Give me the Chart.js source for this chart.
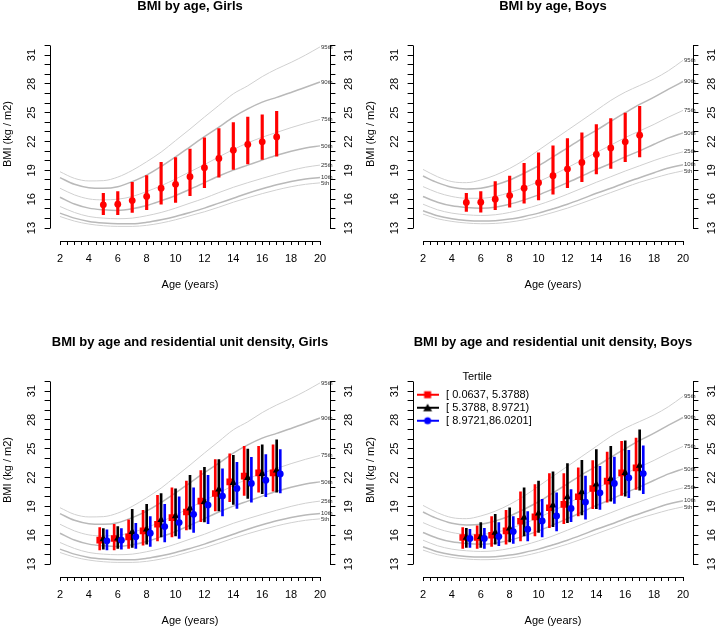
<!DOCTYPE html>
<html><head><meta charset="utf-8">
<script src="https://cdn.jsdelivr.net/npm/chart.js@4.4.1/dist/chart.umd.min.js"></script>
<style>
html,body{margin:0;padding:0;background:#fff;}
#wrap{position:relative;width:718px;height:628px;overflow:hidden;background:#fff;}
canvas{position:absolute;}
</style></head><body>
<div id="wrap">
<canvas id="c1" width="359" height="292" style="left:0px;top:0px"></canvas>
<canvas id="c2" width="355" height="292" style="left:363px;top:0px"></canvas>
<canvas id="c3" width="359" height="292" style="left:0px;top:336px"></canvas>
<canvas id="c4" width="355" height="292" style="left:363px;top:336px"></canvas>
</div>
<script>
// ---------- tick labels ----------
const xTickLabels = [2,4,6,8,10,12,14,16,18,20];
const yTickLabels = [13,16,19,22,25,28,31];
const pctLabels = ['95th','90th','75th','50th','25th','10th','5th'];
const tertileLabels = ['[ 0.0637, 5.3788)', '[ 5.3788, 8.9721)', '[ 8.9721,86.0201]'];

// ---------- reference percentile curves (ages 2..20) ----------
const pctAges = [2,3,4,5,6,7,8,9,10,11,12,13,14,15,16,17,18,19,20];
const girlsP95 = [18.86,18.17,17.90,17.93,18.30,19.00,19.90,20.90,22.10,23.30,24.55,25.76,26.97,27.80,28.76,29.55,30.24,31.00,31.85];
const girlsP90 = [18.24,17.55,17.20,17.14,17.30,17.83,18.50,19.40,20.40,21.45,22.50,23.50,24.55,25.40,26.10,26.60,27.10,27.65,28.20];
const girlsP75 = [17.14,16.45,16.03,15.93,16.00,16.28,16.80,17.40,18.10,18.86,19.60,20.40,21.17,21.86,22.45,22.95,23.45,23.90,24.30];
const girlsP50 = [16.20,15.50,15.07,14.90,14.83,15.00,15.34,15.83,16.38,17.03,17.72,18.41,19.03,19.55,20.07,20.58,21.00,21.33,21.55];
const girlsP25 = [15.24,14.62,14.20,14.03,13.97,14.03,14.28,14.62,15.07,15.59,16.10,16.69,17.24,17.72,18.17,18.60,19.00,19.33,19.55];
const girlsP10 = [14.55,14.03,13.69,13.52,13.45,13.45,13.59,13.86,14.20,14.62,15.07,15.59,16.10,16.62,17.08,17.50,17.85,18.10,18.27];
const girlsP5  = [14.20,13.72,13.41,13.24,13.17,13.17,13.28,13.52,13.86,14.28,14.69,15.17,15.69,16.15,16.58,16.97,17.30,17.55,17.70];

const boysP95 = [19.10,18.34,17.83,17.72,18.00,18.50,19.20,20.07,21.10,22.14,23.17,24.20,25.24,26.28,27.14,27.83,28.52,29.38,30.45];
const boysP90 = [18.41,17.72,17.24,17.07,17.14,17.48,18.00,18.70,19.48,20.41,21.34,22.31,23.17,24.10,25.00,25.86,26.62,27.45,28.25];
const boysP75 = [17.31,16.69,16.28,16.10,16.10,16.28,16.69,17.21,17.83,18.52,19.28,20.07,20.86,21.62,22.41,23.10,23.79,24.55,25.24];
const boysP50 = [16.28,15.69,15.31,15.14,15.07,15.17,15.48,15.93,16.45,17.07,17.72,18.41,19.10,19.72,20.41,21.03,21.72,22.38,22.90];
const boysP25 = [15.48,14.90,14.55,14.38,14.31,14.38,14.62,14.97,15.41,15.93,16.52,17.14,17.76,18.34,18.93,19.48,20.03,20.52,20.93];
const boysP10 = [14.79,14.28,13.97,13.79,13.72,13.76,13.93,14.21,14.55,15.00,15.48,16.03,16.62,17.14,17.72,18.24,18.76,19.25,19.58];
const boysP5  = [14.45,13.97,13.69,13.52,13.45,13.48,13.62,13.86,14.21,14.62,15.07,15.59,16.14,16.69,17.24,17.76,18.20,18.62,18.95];

// ---------- observed BMI by age ----------
const ages = [5,6,7,8,9,10,11,12,13,14,15,16,17];
const girlsMean = [15.41,15.48,15.86,16.28,17.14,17.55,18.34,19.28,20.24,21.10,21.69,21.97,22.48];
const girlsLow  = [14.38,14.38,14.62,14.90,15.48,15.66,16.38,17.21,18.28,19.10,19.66,20.14,20.48];
const girlsHigh = [16.62,16.79,17.76,18.45,19.83,20.34,21.21,22.38,23.34,23.97,24.55,24.79,25.14];

const boysMean = [15.66,15.69,16.00,16.38,17.14,17.72,18.45,19.14,19.83,20.66,21.34,21.97,22.66];
const boysLow  = [14.72,14.66,14.90,15.17,15.59,15.93,16.52,17.21,17.83,18.62,19.21,19.90,20.41];
const boysHigh = [16.62,16.79,17.83,18.41,19.72,20.83,21.55,22.31,22.90,23.76,24.38,24.97,25.66];

// ---------- by residential unit density tertile ----------
const girlsT1Mean = [15.48,15.66,15.83,16.45,17.14,17.83,18.41,19.55,20.34,21.55,22.14,22.48,22.48];
const girlsT1Low  = [14.48,14.48,14.62,14.97,15.41,15.83,16.55,17.41,18.52,19.48,20.14,20.48,20.59];
const girlsT1High = [16.79,17.14,17.59,18.59,20.14,20.93,21.62,22.72,23.86,24.48,25.24,25.24,25.41];
const girlsT2Mean = [15.59,15.66,16.34,16.62,17.59,18.00,18.79,19.48,20.76,21.45,21.97,22.38,22.76];
const girlsT2Low  = [14.55,14.62,14.72,15.07,15.83,15.93,16.62,17.38,18.52,19.21,19.83,20.31,20.48];
const girlsT2High = [16.69,16.90,18.69,19.21,20.34,20.83,22.24,23.07,23.86,24.31,24.97,25.41,25.93];
const girlsT3Mean = [15.41,15.48,15.83,16.21,16.90,17.31,18.17,19.14,20.07,20.86,21.38,21.72,22.38];
const girlsT3Low  = [14.48,14.55,14.62,14.83,15.31,15.66,16.28,17.21,18.00,18.79,19.45,20.00,20.41];
const girlsT3High = [16.55,16.69,17.24,17.93,19.21,20.00,20.93,22.24,22.90,23.59,24.10,24.38,24.90];

const boysT1Mean = [15.76,15.76,16.00,16.45,17.45,17.90,18.86,19.21,20.00,20.86,21.62,22.48,23.00];
const boysT1Low  = [14.62,14.62,14.83,15.07,15.41,15.93,16.79,17.21,18.00,18.76,19.45,20.14,20.76];
const boysT1High = [16.79,16.97,17.93,18.59,20.52,21.28,22.41,22.41,23.00,23.76,24.66,25.76,26.10];
const boysT2Mean = [15.76,15.83,16.28,16.72,17.83,18.28,19.10,19.97,20.48,21.28,21.86,22.48,23.24];
const boysT2Low  = [14.72,14.72,15.07,15.31,15.93,16.28,16.90,17.31,18.10,18.76,19.55,20.07,20.69];
const boysT2High = [16.72,17.31,18.17,18.86,20.93,21.62,22.59,23.45,23.79,24.90,25.24,25.83,26.97];
const boysT3Mean = [15.66,15.66,15.86,16.38,16.62,17.48,18.00,18.79,19.45,20.41,21.38,21.97,22.41];
const boysT3Low  = [14.72,14.62,14.90,15.14,15.41,15.83,16.45,17.41,17.66,18.69,19.31,19.90,20.31];
const boysT3High = [16.62,16.72,17.31,17.93,18.45,19.72,20.41,20.76,22.14,23.17,24.14,24.83,25.31];

// ---------- styling ----------
Chart.defaults.font.family = '"Liberation Sans", Arial, sans-serif';
Chart.defaults.font.size = 11;
Chart.defaults.color = '#000';

const DODGE = 0.25;
const X_MIN = 1.28, X_MAX = 20.72;
const Y_MIN = 11.65, Y_MAX = 33.92;
const thinGray = '#d0d0d0', thickGray = '#b9b9b9';

function xTickValues() {
  const out = [];
  for (let v = xTickLabels[0]; v <= xTickLabels[xTickLabels.length - 1] + 1e-9; v += 0.5) out.push({value: v});
  return out;
}
function yTickValues() {
  const out = [];
  for (let v = yTickLabels[0]; v <= yTickLabels[yTickLabels.length - 1] + 1; v += 1) out.push({value: v});
  return out;
}
function labelIf(list) {
  return function(v) {
    const r = Math.round(v);
    return (Math.abs(v - r) < 1e-6 && list.includes(r)) ? String(r) : '';
  };
}

const rAxes = {
  id: 'rAxes',
  afterDraw(chart) {
    const {ctx, chartArea, scales} = chart;
    ctx.save();
    ctx.strokeStyle = '#000';
    ctx.lineWidth = 1;
    ctx.beginPath();
    const xs = scales.x, ys = scales.y;
    const yb = Math.round(chartArea.bottom) + 0.5;
    ctx.moveTo(xs.getPixelForValue(xTickLabels[0]), yb);
    ctx.lineTo(xs.getPixelForValue(xTickLabels[xTickLabels.length - 1]) + 0.5, yb);
    const yTop = ys.getPixelForValue(yTickLabels[yTickLabels.length - 1] + 1);
    const yBot = ys.getPixelForValue(yTickLabels[0]);
    const xl = Math.round(chartArea.left) + 0.5;
    const xr = Math.round(chartArea.right) + 0.5;
    ctx.moveTo(xl, yTop); ctx.lineTo(xl, yBot + 0.5);
    ctx.moveTo(xr, yTop); ctx.lineTo(xr, yBot + 0.5);
    ctx.stroke();
    ctx.restore();
  }
};

function pctLabelPlugin(curves) {
  return {
    id: 'pctLabels',
    afterDatasetsDraw(chart) {
      const {ctx, scales} = chart;
      ctx.save();
      ctx.font = '6px "Liberation Sans", Arial, sans-serif';
      ctx.fillStyle = '#333';
      ctx.textAlign = 'left';
      ctx.textBaseline = 'middle';
      const last = pctAges.length - 1;
      curves.forEach((arr, i) => {
        ctx.fillText(pctLabels[i], scales.x.getPixelForValue(pctAges[last]) + 1, scales.y.getPixelForValue(arr[last]));
      });
      ctx.restore();
    }
  };
}

function curveDatasets(curves) {
  return curves.map((arr, i) => ({
    type: 'line',
    label: pctLabels[i],
    data: pctAges.map((a, k) => ({x: a, y: arr[k]})),
    borderColor: (i === 1 || i === 3 || i === 5) ? thickGray : thinGray,
    borderWidth: (i === 1 || i === 3 || i === 5) ? 1.5 : 1,
    pointRadius: 0,
    fill: false,
    tension: 0.4,
    cubicInterpolationMode: 'monotone',
    order: 100
  }));
}

function errorBars(label, mean, low, high, dx, color, style, radius, barW, order) {
  return [
    {
      type: 'bar',
      label: label + ' range',
      data: ages.map((a, k) => ({x: a + dx, y: [low[k], high[k]]})),
      backgroundColor: color,
      borderWidth: 0,
      barThickness: barW,
      grouped: false,
      order: order + 1
    },
    {
      type: 'scatter',
      label: label,
      data: ages.map((a, k) => ({x: a + dx, y: mean[k]})),
      pointStyle: style,
      pointRadius: radius,
      backgroundColor: color,
      borderColor: color,
      borderWidth: 0,
      showLine: false,
      order: order
    }
  ];
}

function legendIcon(color, style) {
  const c = document.createElement('canvas');
  c.width = 22; c.height = 10;
  const g = c.getContext('2d');
  g.strokeStyle = color; g.lineWidth = 2;
  g.beginPath(); g.moveTo(0, 5); g.lineTo(22, 5); g.stroke();
  g.fillStyle = color;
  if (style === 'rect') g.fillRect(7.5, 1.5, 7, 7);
  else if (style === 'triangle') { g.beginPath(); g.moveTo(11, 1); g.lineTo(15.5, 8.5); g.lineTo(6.5, 8.5); g.closePath(); g.fill(); }
  else { g.beginPath(); g.arc(11, 5, 3.5, 0, 2 * Math.PI); g.fill(); }
  return c;
}

function makePanel(id, title, canvasW, curves, datasets, withLegend) {
  const rightW = canvasW - 330.4;
  const yScale = (pos) => ({
    type: 'linear',
    position: pos,
    min: Y_MIN, max: Y_MAX,
    afterBuildTicks: s => { s.ticks = yTickValues(); },
    afterFit: s => { s.width = pos === 'left' ? 49.6 : rightW; },
    ticks: {
      autoSkip: false, minRotation: 90, maxRotation: 90, crossAlign: 'center',
      padding: pos === 'left' ? 7 : 7.5, font: {size: 11}, color: '#000',
      callback: labelIf(yTickLabels)
    },
    grid: {drawOnChartArea: false, drawTicks: true, tickLength: 5, color: '#000', lineWidth: 1},
    border: {display: false},
    title: pos === 'left'
      ? {display: true, text: 'BMI (kg / m2)', font: {size: 11}, color: '#000', padding: {top: 1, bottom: 0}}
      : {display: false}
  });

  const legendOpts = withLegend ? {
    display: true,
    position: 'chartArea',
    align: 'start',
    title: {display: true, text: 'Tertile', font: {size: 11}, color: '#000', padding: {top: 35, bottom: 3}},
    labels: {
      usePointStyle: true, pointStyleWidth: 26, boxHeight: 11, padding: 2,
      font: {size: 11}, color: '#000',
      generateLabels: () => [
        {text: tertileLabels[0], pointStyle: legendIcon('#ff0000', 'rect'), fillStyle: '#ff0000', strokeStyle: '#ff0000', lineWidth: 0, hidden: false, fontColor: '#000'},
        {text: tertileLabels[1], pointStyle: legendIcon('#000000', 'triangle'), fillStyle: '#000', strokeStyle: '#000', lineWidth: 0, hidden: false, fontColor: '#000'},
        {text: tertileLabels[2], pointStyle: legendIcon('#0000ff', 'circle'), fillStyle: '#0000ff', strokeStyle: '#0000ff', lineWidth: 0, hidden: false, fontColor: '#000'}
      ]
    }
  } : {display: false};

  return new Chart(document.getElementById(id), {
    type: 'scatter',
    data: {datasets: curveDatasets(curves).concat(datasets)},
    options: {
      responsive: false,
      animation: false,
      events: [],
      layout: {padding: 0},
      plugins: {
        title: {display: true, text: title, fullSize: false, font: {size: 13, weight: 'bold', lineHeight: 1}, color: '#000', padding: {top: 0, bottom: 14}},
        legend: legendOpts,
        tooltip: {enabled: false}
      },
      scales: {
        x: {
          type: 'linear', min: X_MIN, max: X_MAX, offset: false,
          afterBuildTicks: s => { s.ticks = xTickValues(); },
          afterFit: s => { s.height = 51; },
          ticks: {autoSkip: false, maxRotation: 0, minRotation: 0, padding: 7, font: {size: 11}, color: '#000', callback: labelIf(xTickLabels)},
          grid: {drawOnChartArea: false, drawTicks: true, tickLength: 4, color: '#000', lineWidth: 1, offset: false},
          border: {display: false},
          title: {display: true, text: 'Age (years)', font: {size: 11}, color: '#000', padding: {top: 0, bottom: 0}}
        },
        y: yScale('left'),
        y2: yScale('right')
      }
    },
    plugins: [rAxes, pctLabelPlugin(curves)]
  });
}

const girlsCurves = [girlsP95, girlsP90, girlsP75, girlsP50, girlsP25, girlsP10, girlsP5];
const boysCurves = [boysP95, boysP90, boysP75, boysP50, boysP25, boysP10, boysP5];

makePanel('c1', 'BMI by age, Girls', 359, girlsCurves,
  errorBars('Girls', girlsMean, girlsLow, girlsHigh, 0, '#ff0000', 'circle', 3.4, 2.5, 2), false);
makePanel('c2', 'BMI by age, Boys', 355, boysCurves,
  errorBars('Boys', boysMean, boysLow, boysHigh, 0, '#ff0000', 'circle', 3.4, 2.5, 2), false);
makePanel('c3', 'BMI by age and residential unit density, Girls', 359, girlsCurves,
  [].concat(
    errorBars(tertileLabels[0], girlsT1Mean, girlsT1Low, girlsT1High, -DODGE, '#ff0000', 'rect', 4.7, 2, 8),
    errorBars(tertileLabels[1], girlsT2Mean, girlsT2Low, girlsT2High, 0, '#000000', 'triangle', 4.3, 2, 6),
    errorBars(tertileLabels[2], girlsT3Mean, girlsT3Low, girlsT3High, DODGE, '#0000ff', 'circle', 3.4, 2, 4)
  ), false);
makePanel('c4', 'BMI by age and residential unit density, Boys', 355, boysCurves,
  [].concat(
    errorBars(tertileLabels[0], boysT1Mean, boysT1Low, boysT1High, -DODGE, '#ff0000', 'rect', 4.7, 2, 8),
    errorBars(tertileLabels[1], boysT2Mean, boysT2Low, boysT2High, 0, '#000000', 'triangle', 4.3, 2, 6),
    errorBars(tertileLabels[2], boysT3Mean, boysT3Low, boysT3High, DODGE, '#0000ff', 'circle', 3.4, 2, 4)
  ), true);
</script>
</body></html>
